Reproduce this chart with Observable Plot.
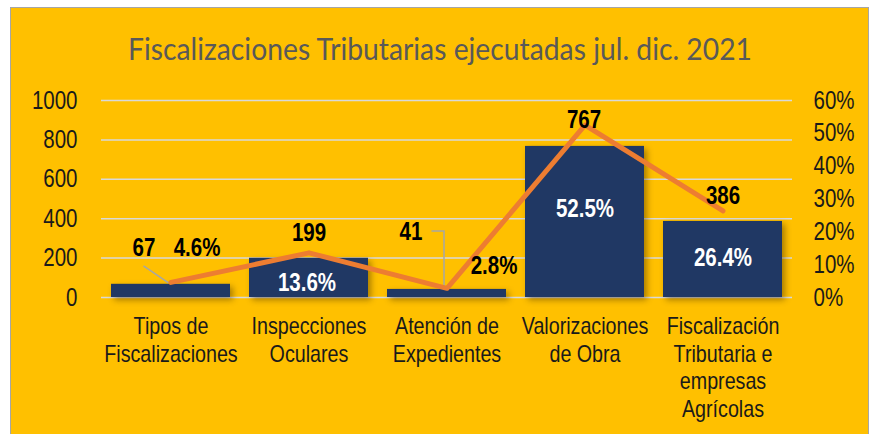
<!DOCTYPE html>
<html><head><meta charset="utf-8">
<script src="https://cdn.jsdelivr.net/npm/d3@7"></script>
<script src="https://cdn.jsdelivr.net/npm/@observablehq/plot@0.6"></script>
<style>
html,body{margin:0;padding:0;background:#fff;width:875px;height:434px;overflow:hidden;}
#box{position:absolute;left:10px;top:7px;width:857px;height:440px;background:#FFC000;border:1.5px solid #A6A6A6;border-bottom:none;}
#title{position:absolute;left:0;top:0;}
#chart{position:absolute;left:0;top:0;}
</style></head>
<body>
<div id="box"></div>
<svg id="title" width="875" height="80"><text x="440" y="60" text-anchor="middle" font-family="Lato, 'Open Sans', sans-serif" font-size="30" fill="#595959" textLength="624" lengthAdjust="spacingAndGlyphs">Fiscalizaciones Tributarias ejecutadas jul. dic. 2021</text></svg>
<div id="chart"></div>
<script>
const categories = ["Tipos de Fiscalizaciones", "Inspecciones Oculares", "Atención de Expedientes", "Valorizaciones de Obra", "Fiscalización Tributaria e empresas Agrícolas"];
const tickLabels = ["Tipos de\nFiscalizaciones", "Inspecciones\nOculares", "Atención de\nExpedientes", "Valorizaciones\nde Obra", "Fiscalización\nTributaria e\nempresas\nAgrícolas"];
const counts = [67, 199, 41, 767, 386];
const shares = [0.046, 0.136, 0.028, 0.525, 0.264];
const shareLabels = ["4.6%", "13.6%", "2.8%", "52.5%", "26.4%"];
const countTicks = [0, 200, 400, 600, 800, 1000];
const shareTicks = [0, 0.1, 0.2, 0.3, 0.4, 0.5, 0.6];
const countMax = 1000, shareMax = 0.6;

const data = categories.map((c, i) => ({cat: c, count: counts[i], share: shares[i], shareLabel: shareLabels[i], tick: tickLabels[i]}));
const toY = s => s / shareMax * countMax;

const FONT = "'Liberation Sans', Arial, sans-serif";
// label placement offsets (pixels), as set in the original chart
const countOff = [[-27, -28], [0, -17], [-36, -49], [-1, -18], [0, -17]];
const shareOff = [[26, -26], [-2, 38], [47, -14], [0, 92], [0, 55]];
const shareFill = ["#000", "#fff", "#000", "#fff", "#fff"];

const marks = [
  Plot.ruleY(countTicks, {stroke: "#D9D9D9", strokeWidth: 1.5}),
  Plot.barY(data, {x: "cat", y: "count", fill: "#203864"}),
  Plot.line(data, {x: "cat", y: d => toY(d.share), stroke: "#ED7D31", strokeWidth: 5, strokeLinecap: "round", strokeLinejoin: "round"}),
  Plot.axisY({ticks: countTicks, anchor: "left", label: null, tickSize: 0, tickPadding: 24, fontSize: 25, color: "#1a1a1a", tickFormat: d => String(d)}),
  Plot.axisY({ticks: shareTicks.map(toY), anchor: "right", label: null, tickSize: 0, tickPadding: 21, fontSize: 25, color: "#1a1a1a",
    tickFormat: d => Math.round(d / countMax * shareMax * 100) + "%"}),
  Plot.axisX({ticks: categories, anchor: "bottom", label: null, tickSize: 0, tickPadding: 17, fontSize: 24, color: "#1a1a1a", lineHeight: 1.15,
    lineAnchor: "top", tickFormat: d => tickLabels[categories.indexOf(d)]})
];
data.forEach((d, i) => {
  marks.push(Plot.text([d], {x: "cat", y: "count", text: d => String(d.count), dx: countOff[i][0], dy: countOff[i][1],
    lineAnchor: "bottom", fontSize: 25, fontWeight: "bold", fill: "#000"}));
  marks.push(Plot.text([d], {x: "cat", y: d => toY(d.share), text: "shareLabel", dx: shareOff[i][0], dy: shareOff[i][1],
    lineAnchor: "bottom", fontSize: 25, fontWeight: "bold", fill: shareFill[i]}));
});

const plot = Plot.plot({
  width: 875, height: 434, marginTop: 100, marginBottom: 137, marginLeft: 101, marginRight: 83,
  style: {background: "transparent", fontFamily: FONT, overflow: "visible"},
  x: {domain: categories, paddingInner: 0.14, paddingOuter: 0.07, axis: null},
  y: {domain: [0, countMax], axis: null},
  marks
});
document.getElementById("chart").appendChild(plot);

// emulate a narrow (condensed) face: compress each text run horizontally
plot.querySelectorAll("text").forEach(t => {
  const spans = t.querySelectorAll("tspan");
  const runs = spans.length ? Array.from(spans) : [t];
  runs.forEach(r => {
    const len = r.getComputedTextLength();
    if (len > 0) { r.setAttribute("textLength", (len * 0.82).toFixed(2)); r.setAttribute("lengthAdjust", "spacingAndGlyphs"); }
  });
});

const svg = d3.select(plot);
svg.selectAll("g[aria-label=bar]").style("filter", "drop-shadow(3px 3px 3px rgba(60,40,0,0.45))");

// leader lines
const xs = plot.scale("x"), ys = plot.scale("y");
const cx = c => xs.apply(c) + xs.bandwidth / 2;
const lead = svg.insert("g", "g[aria-label=line]").attr("fill", "none").attr("stroke", "#A6A6A6").attr("stroke-width", 1.5);
{
  const d = data[0], x = cx(d.cat), yl = ys.apply(d.count) + countOff[0][1];
  lead.append("path").attr("d", `M${x + countOff[0][0]},${yl + 10}L${x - 2},${ys.apply(toY(d.share)) + 1}`);
}
{
  const d = data[2], x = cx(d.cat), yl = ys.apply(d.count) + countOff[2][1];
  lead.append("path").attr("d", `M${x + countOff[2][0] + 21},${yl - 9}H${x - 2.5}V${ys.apply(toY(d.share))}`);
}
</script>
</body></html>
